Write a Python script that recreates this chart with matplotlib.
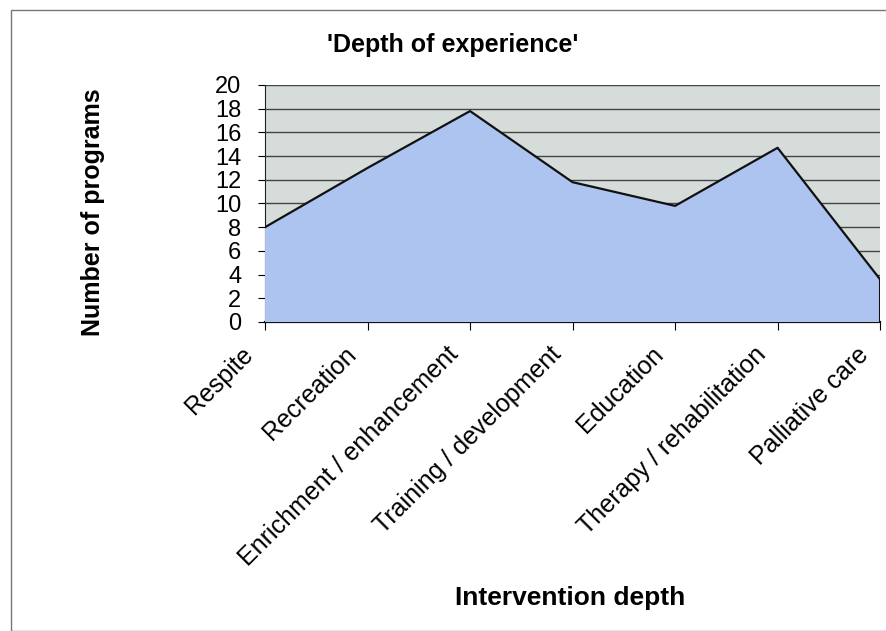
import matplotlib.pyplot as plt
from matplotlib.patches import Rectangle
from matplotlib.transforms import ScaledTranslation

categories = ["Respite", "Recreation", "Enrichment / enhancement", "Training / development",
              "Education", "Therapy / rehabilitation", "Palliative care"]
programs = [8, 13, 17.8, 11.8, 9.8, 14.7, 3.6]
y_ticks = list(range(0, 21, 2))

plt.rcParams['font.family'] = ['Liberation Sans', 'DejaVu Sans']

fig = plt.figure(figsize=(8.87, 6.31), dpi=100)
ax = fig.add_axes([0.2988, 0.4897, 0.6934, 0.3756])

x = list(range(len(categories)))
ax.set_facecolor("#d5dcda")
ax.fill_between(x, programs, 0, facecolor="#adc3f0", edgecolor="none", zorder=3)
ax.plot(x + [x[-1]], programs + [0], color="#111111", linewidth=1.6, zorder=4)

ax.set_xlim(0, len(categories) - 1)
ax.set_ylim(0, 20)
ax.set_yticks(y_ticks)
ax.set_yticklabels([str(v) for v in y_ticks], fontsize=17)
ax.yaxis.grid(True, color="#444444", linewidth=1.0, zorder=1)
ax.set_axisbelow(True)

ax.set_xticks(x)
ax.set_xticklabels(categories, rotation=45, ha="right", va="top",
                   rotation_mode="anchor", fontsize=18)
ax.tick_params(axis="x", length=6, pad=0, direction="out")
ax.tick_params(axis="y", length=5, pad=12, direction="out")

# push the rotated labels down/left like the original
shift = ScaledTranslation(-0.24, -0.12, fig.dpi_scale_trans)
for lbl in ax.get_xticklabels():
    lbl.set_transform(lbl.get_transform() + shift)

for side in ["top", "right"]:
    ax.spines[side].set_visible(False)
ax.spines["left"].set_color("#222222")
ax.spines["bottom"].set_color("#111111")
ax.spines["bottom"].set_linewidth(1.6)

fig.text(0.510, 0.928, "'Depth of experience'", ha="center", va="center",
         fontsize=18, fontweight="bold")
fig.text(0.105, 0.664, "Number of programs", ha="center", va="center",
         rotation=90, fontsize=18, fontweight="bold")
fig.text(0.643, 0.052, "Intervention depth", ha="center", va="center",
         fontsize=19, fontweight="bold")

# scanned page border
fig.patches.append(Rectangle((0.012, 0.0), 0.99, 0.984, transform=fig.transFigure,
                             fill=False, edgecolor="#777777", linewidth=1.0))

fig.savefig("out.png", dpi=100)
